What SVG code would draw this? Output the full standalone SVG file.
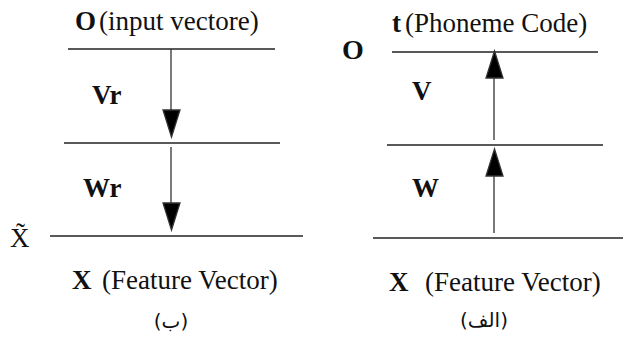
<svg xmlns="http://www.w3.org/2000/svg" width="624" height="338" viewBox="0 0 624 338">
<defs>
  <polygon id="head" points="-8.5,0 8.5,0 0,27" fill="#000"/>
</defs>
<rect width="624" height="338" fill="#fff"/>
<g id="left-panel">
  <g id="left-top">
    <text font-family="Times New Roman" font-size="27" fill="#111" x="75" y="30" font-weight="bold">O</text>
    <text font-family="Times New Roman" font-size="27" fill="#111" x="99" y="30">(input vectore)</text>
    <line x1="68" y1="49" x2="275" y2="49" stroke="#222" stroke-width="1.4"/>
  </g>
  <g id="left-mid">
    <line x1="64" y1="143" x2="280" y2="143" stroke="#222" stroke-width="1.4"/>
  </g>
  <g id="left-bottom">
    <text font-family="Times New Roman" font-size="27" fill="#111" x="10" y="247">X̃</text>
    <line x1="50" y1="236" x2="303" y2="236" stroke="#222" stroke-width="1.4"/>
    <text font-family="Times New Roman" font-size="27" fill="#111" x="72" y="289" font-weight="bold">X</text>
    <text font-family="Times New Roman" font-size="27" fill="#111" x="102" y="289">(Feature Vector)</text>
    <text font-family="DejaVu Sans" font-size="20" fill="#111" x="171" y="328" text-anchor="middle">(ب)</text>
  </g>
  <g id="left-labels">
    <text font-family="Times New Roman" font-size="27" fill="#111" x="92" y="104" font-weight="bold">Vr</text>
    <text font-family="Times New Roman" font-size="27" fill="#111" x="83" y="197" font-weight="bold">Wr</text>
  </g>
</g>
<g id="right-panel">
  <g id="right-top">
    <text font-family="Times New Roman" font-size="28" fill="#111" x="342" y="59" font-weight="bold">O</text>
    <text font-family="Times New Roman" font-size="27" fill="#111" x="392" y="32" font-weight="bold">t</text>
    <text font-family="Times New Roman" font-size="27" fill="#111" x="405" y="32">(Phoneme Code)</text>
    <line x1="392" y1="52" x2="598" y2="52" stroke="#222" stroke-width="1.4"/>
  </g>
  <g id="right-mid">
    <line x1="387" y1="145" x2="603" y2="145" stroke="#222" stroke-width="1.4"/>
  </g>
  <g id="right-bottom">
    <line x1="373" y1="238" x2="623" y2="238" stroke="#222" stroke-width="1.4"/>
    <text font-family="Times New Roman" font-size="27" fill="#111" x="389" y="291" font-weight="bold">X</text>
    <text font-family="Times New Roman" font-size="27" fill="#111" x="425" y="291">(Feature Vector)</text>
    <text font-family="DejaVu Sans" font-size="20" fill="#111" x="484" y="327" text-anchor="middle">(الف)</text>
  </g>
  <g id="right-labels">
    <text font-family="Times New Roman" font-size="27" fill="#111" x="412" y="100" font-weight="bold">V</text>
    <text font-family="Times New Roman" font-size="27" fill="#111" x="412" y="197" font-weight="bold">W</text>
  </g>
</g>
<g id="connectors" stroke="#333" stroke-width="1.3">
  <line x1="171" y1="49" x2="171" y2="112"/>
  <use href="#head" x="171.5" y="110"/>
  <line x1="171" y1="147" x2="171" y2="205"/>
  <use href="#head" x="171.5" y="203"/>
  <line x1="494" y1="140" x2="494" y2="76"/>
  <use href="#head" transform="translate(494.5,78) scale(1,-1)"/>
  <line x1="494" y1="233" x2="494" y2="174"/>
  <use href="#head" transform="translate(494.5,176) scale(1,-1)"/>
</g>
</svg>
